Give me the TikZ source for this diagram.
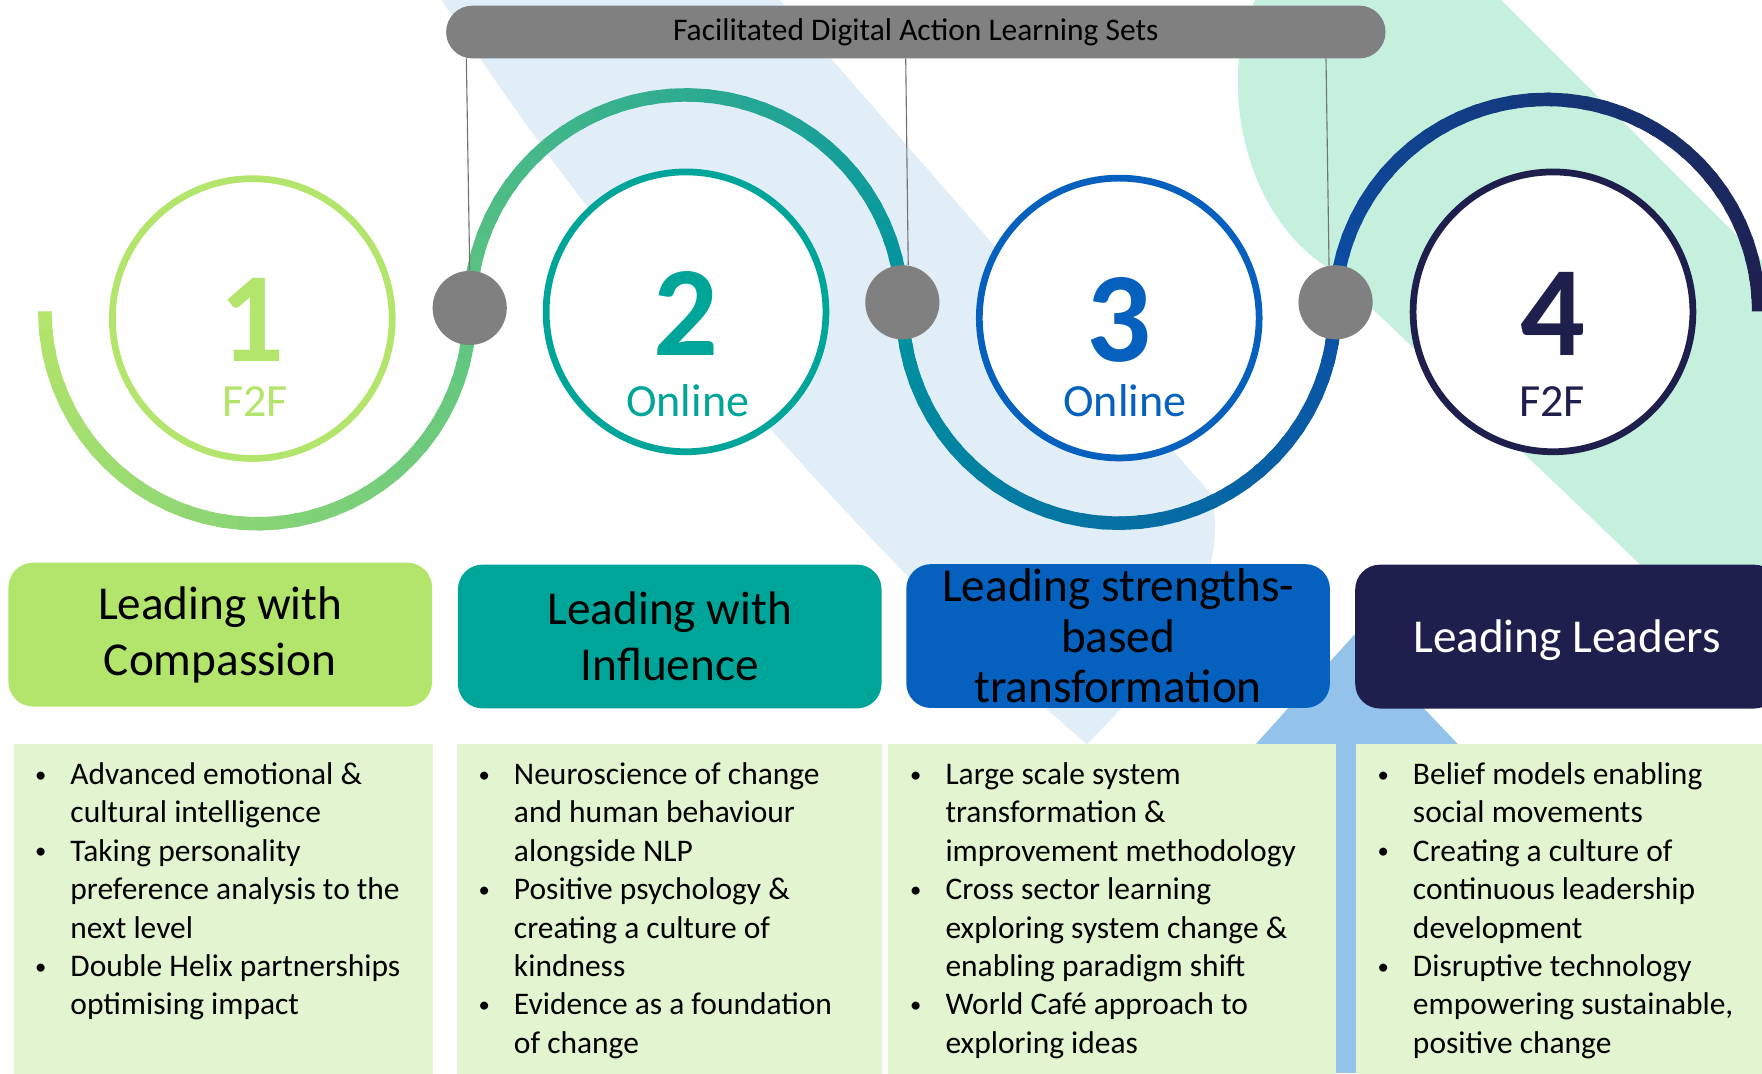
\documentclass[tikz,border=0pt]{standalone}
\usepackage{graphicx}
\usepackage{fontspec}
\setmainfont{Carlito}
\definecolor{cpgreen}{HTML}{B3E46B}
\definecolor{citeal}{HTML}{00A59A}
\definecolor{cblue}{HTML}{0560BE}
\definecolor{cnavy}{HTML}{1F1F4D}
\definecolor{arcgreen}{HTML}{5CC481}
\definecolor{arcteal}{HTML}{0092A0}
\definecolor{arcblue}{HTML}{0B4FA6}
\definecolor{tiegray}{HTML}{808080}
\definecolor{boxfill}{HTML}{E2F5D0}
\definecolor{bandblue}{HTML}{E1EEF8}
\definecolor{bandgreen}{HTML}{C5F0DD}
\definecolor{triblue}{HTML}{93C2EA}
\newcommand{\bdot}{\hspace*{1.5pt}\raisebox{1pt}{\scalebox{0.72}{\textbullet}}}
\newcommand{\bitems}[1]{\begin{tabular}[t]{@{}p{17.25pt}@{}l@{}}#1\end{tabular}}

\begin{document}
\begin{tikzpicture}[x=0.5pt, y=-0.5pt, line join=round,
	ring/.style={circle, draw=#1, line width=3pt, fill=white, minimum size=124.5pt, inner sep=0pt},
	dot/.style={circle, fill=tiegray, minimum size=33pt, inner sep=0pt},
	bar/.style={fill=tiegray, rounded corners=11.75pt, minimum width=418pt, minimum height=23.5pt, inner sep=0pt, font=\fontsize{14}{17}\selectfont},
	head/.style={rounded corners=11pt, minimum width=188.5pt, minimum height=64pt, inner sep=0pt, align=center, font=\fontsize{21}{25}\selectfont},
	body/.style={anchor=base west, inner sep=0pt, font=\fontsize{14}{17.1}\selectfont}]
	\clip (0,0) rectangle (1568,955);
	\fill[white] (0,0) rectangle (1568,955);
	\fill[bandblue] (393,0) .. controls (560,260) and (800,520) .. (967,662)
	.. controls (1040,590) and (1095,520) .. (1078,440) -- (694,0) -- cycle;
	\fill[bandgreen] (1336,0) -- (1568,232) -- (1568,606) -- (1186,241)
	.. controls (1100,190) and (1085,60) .. (1117,0) -- cycle;
	\fill[triblue] (1115,665) -- (1205,565) -- (1300,665) -- cycle;
	\fill[triblue] (1185,650) rectangle (1210,955);
	\foreach \l/\r in {12.3/385,407/785,790/1189,1207/1600}
	\fill[boxfill] (\l,662) rectangle (\r,960);
	
	\foreach \ax/\ay/\r/\e/\ca/\cb in {229/277/189/0/cpgreen/arcgreen,610.5/277/192.5/360/arcgreen/arcteal,995.5/273/192.5/0/arcteal/arcblue,1376.5/277/188.5/360/arcblue/cnavy}
	\foreach \k in {0,...,35}{
		\pgfmathsetmacro{\sa}{180+(\e-180)*\k/36}
		\pgfmathsetmacro{\ea}{180+(\e-180)*min(\k+1.3,36)/36}
		\pgfmathtruncatemacro{\t}{100*\k/35}
		\draw[line width=6pt, \cb!\t!\ca] ([shift={(\sa:\r)}]\ax,\ay) arc[start angle=\sa, end angle=\ea, radius=\r];
	}
	
	\foreach \i/\cx/\cy/\lx/\col/\lab in {1/224.5/283.5/227/cpgreen/F2F,2/610.5/277.5/612/citeal/Online,3/996/283/1001/cblue/Online,4/1382/277.5/1381/cnavy/F2F}{
		\node[ring=\col] (c\i) at (\cx,\cy) {};
		\node[anchor=base, text=\col, font=\fontsize{57}{60}\selectfont\bfseries] (n\i) at (\cx,\cy+38.5) {\i};
		\node[anchor=base, text=\col, font=\fontsize{20.5}{24}\selectfont] (m\i) at (\lx,371) {\lab};
	}
	
	\node[bar] (bar) at (815,28.5) {Facilitated Digital Action Learning Sets};
	\path
	(415,52) coordinate (a1)
	(806,52) coordinate (a2)
	(1180,52) coordinate (a3)
	;
	\node[dot] (d1) at (418,274) {};
	\node[dot] (d2) at (803,269) {};
	\node[dot] (d3) at (1188.5,269) {};
	\foreach \i/\w in {1/90,2/81,3/100}
	\draw[tiegray!90!black, line width=0.5pt] (a\i) -- (d\i.\w);
	
	\node[head, fill=cpgreen] (h1) at (196,564.7) {Leading with\\Compassion};
	\node[head, fill=citeal] (h2) at (596,566.4) {Leading with\\Influence};
	\node[head, fill=cblue] (h3) at (995,566) {};
	\node[align=center, inner sep=0pt, font=\fontsize{21}{22.5}\selectfont] (h3text) at (h3) {Leading strengths-\\based\\transformation};
	\node[head, fill=cnavy, text=white, text depth=0pt] (h4) at (1394.5,566.5) {Leading Leaders};
	
	\node[body] (t1) at (27.8,698) {\bitems{
			\bdot & Advanced emotional \& \\
			& cultural intelligence \\
			\bdot & Taking personality \\
			& preference analysis to the \\
			& next level \\
			\bdot & Double Helix partnerships \\
			& optimising impact}};
	\node[body] (t2) at (422.5,698) {\bitems{
			\bdot & Neuroscience of change \\
			& and human behaviour \\
			& alongside NLP \\
			\bdot & Positive psychology \& \\
			& creating a culture of \\
			& kindness \\
			\bdot & Evidence as a foundation \\
			& of change}};
	\node[body] (t3) at (806.5,698) {\bitems{
			\bdot & Large scale system \\
			& transformation \& \\
			& improvement methodology \\
			\bdot & Cross sector learning \\
			& exploring system change \& \\
			& enabling paradigm shift \\
			\bdot & World Café approach to \\
			& exploring ideas}};
	\node[body] (t4) at (1222.5,698) {\bitems{
			\bdot & Belief models enabling \\
			& social movements \\
			\bdot & Creating a culture of \\
			& continuous leadership \\
			& development \\
			\bdot & Disruptive technology \\
			& empowering sustainable, \\
			& positive change}};
\end{tikzpicture}
\end{document}
